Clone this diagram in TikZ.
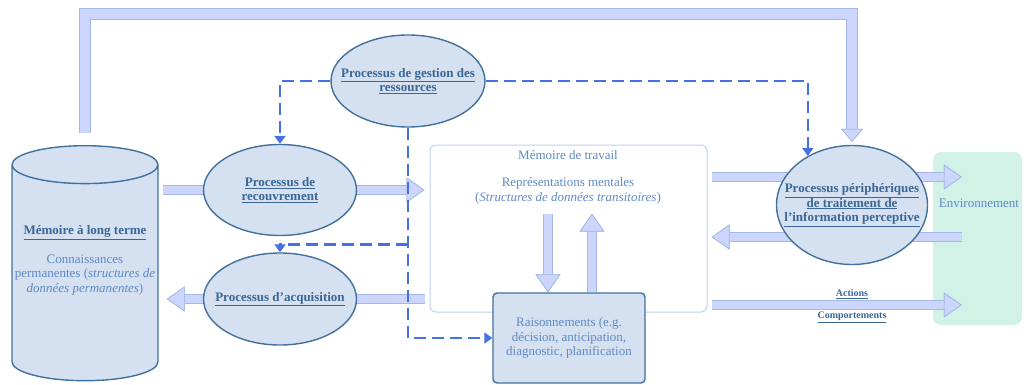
\documentclass[tikz,border=0pt]{standalone}
\usepackage{fontspec}
\setmainfont{Liberation Serif}
\usetikzlibrary{shapes.geometric,arrows.meta,positioning,calc}

\definecolor{nodefill}{HTML}{D5E0F0}
\definecolor{nodeedge}{HTML}{41719C}
\definecolor{titlecol}{HTML}{3A6796}
\definecolor{bodycol}{HTML}{5F8AC4}
\definecolor{wmedge}{HTML}{BDD3EE}
\definecolor{arrowfill}{HTML}{CCD5FB}
\definecolor{arrowedge}{HTML}{A3B8E6}
\definecolor{dashcol}{HTML}{4571E4}
\definecolor{envfill}{HTML}{D2F2E8}

\newcommand{\ttl}[1]{\underline{#1}}

\pgfdeclarelayer{back}
\pgfdeclarelayer{mid}
\pgfsetlayers{back,mid,main}

\begin{document}
\begin{tikzpicture}[x=1pt, y=-1pt,
    font=\fontsize{13}{14.5}\selectfont,
    proc/.style={ellipse, draw=nodeedge, fill=nodefill, line width=1.4pt, inner sep=0pt},
    ptext/.style={align=center, text=titlecol, font=\fontsize{13}{14.5}\selectfont\bfseries},
    store/.style={cylinder, shape border rotate=90, aspect=0.27, draw=nodeedge, fill=nodefill, line width=1.4pt, align=center, text=bodycol, inner sep=0pt},
    rbox/.style={rectangle, rounded corners=4pt, draw=nodeedge, fill=nodefill, line width=1.4pt, align=center, text=bodycol},
    plain/.style={align=center, text=bodycol},
    fat/.style={line width=8pt, draw=arrowfill, preaction={draw=arrowedge, line width=9.4pt},
        -{Triangle[width=25pt, length=18pt, line width=0.7pt, color=arrowedge, fill=arrowfill]}},
    bigfat/.style={line width=10pt, draw=arrowfill, preaction={draw=arrowedge, line width=11.4pt},
        -{Triangle[width=22pt, length=13pt, line width=0.7pt, color=arrowedge, fill=arrowfill]}},
    ctrl/.style={draw=dashcol, line width=2.6pt, dash pattern=on 12pt off 6pt, -{Triangle[width=11pt, length=8pt]}},
    lbl/.style={text=titlecol, font=\fontsize{10}{12}\selectfont\bfseries}
]
\useasboundingbox (0,0) rectangle (1024,385);

% environment (behind everything)
\begin{pgfonlayer}{back}
  \node[rectangle, rounded corners=8pt, fill=envfill, minimum width=89pt, minimum height=173pt] (env) at (977.5,238.5) {};
\end{pgfonlayer}
\node[plain] (envtxt) at (979,203) {Environnement};

% long term memory
\node[store, anchor=north, minimum width=146pt, minimum height=235pt] (ltm) at (85,145)
  {{\bfseries\color{titlecol}\ttl{Mémoire à long terme}}\\[14pt]
   Connaissances\\ permanentes (\textit{structures de}\\ \textit{données permanentes})\\[14pt] ~};

% working memory
\node[rectangle, rounded corners=6pt, draw=wmedge, line width=1pt, minimum width=277pt, minimum height=167pt] (wm) at (568.5,228.5) {};
\node[plain] (wmtitle) at (568,155) {Mémoire de travail};
\node[plain] (wmrep) at (568,191) {Représentations mentales\\(\textit{Structures de données transitoires})};

\node[rbox, minimum width=152pt, minimum height=90pt] (rais) at (569,338)
  {Raisonnements (e.g.\\décision, anticipation,\\diagnostic, planification};

% processes
\node[proc, minimum width=154pt, minimum height=92pt,
  label={[ptext]center:{\ttl{Processus de gestion des}\\\ttl{ressources}}}] (gest) at (408,81) {};
\node[proc, minimum width=153pt, minimum height=91pt,
  label={[ptext]center:{\ttl{Processus de}\\\ttl{recouvrement}}}] (recouv) at (280,190) {};
\node[proc, minimum width=153pt, minimum height=92pt,
  label={[ptext]center:{\ttl{Processus d’acquisition}}}] (acq) at (280,299) {};
\node[proc, minimum width=151pt, minimum height=119pt,
  label={[ptext]center:{\ttl{Processus périphériques}\\\ttl{de traitement de}\\\ttl{l’information perceptive}}}] (peri) at (852,205) {};

% block arrows
\coordinate (envA) at ([xshift=29pt]env.west);
\coordinate (outA) at ([yshift=51.5pt]wm.east);
\coordinate (inA) at ([yshift=-8.5pt]wm.east);
\coordinate (outB) at ([yshift=-76.5pt]wm.east);
\coordinate (dn) at ([xshift=-21pt]rais.north);
\coordinate (up) at ([xshift=23pt]rais.north);
\coordinate (topbar) at (0,14);
\begin{pgfonlayer}{mid}
  \draw[bigfat, shorten >=3pt] ([yshift=12pt]ltm.north) |- (topbar -| peri.north) -- (peri.north);
  \draw[fat, shorten <=4pt, shorten >=5pt] (ltm.east |- recouv) -- (wm.west |- recouv);
  \draw[fat, shorten <=5pt, shorten >=8pt] (wm.west |- acq) -- (ltm.east |- acq);
  \draw[fat, shorten <=4pt] (outA) -- (outA -| envA);
  \draw[fat, shorten >=4pt] (inA -| envA) -- (inA);
  \draw[fat, shorten <=4pt] (outB) -- (outB -| envA);
  \draw[fat, shorten <=6pt] (dn |- wmrep.south) -- (dn);
  \draw[fat, shorten >=6pt] (up) -- (up |- wmrep.south);
\end{pgfonlayer}
\node[lbl] (act) at ([yshift=11pt]peri.south |- outB) {\ttl{Actions}};
\node[lbl] (comp) at ([yshift=-12pt]peri.south |- outB) {\ttl{Comportements}};

% control (dashed) arrows
\coordinate (mid) at ($(recouv.south)!.5!(acq.north)$);
\draw[ctrl] (gest.west) -| (recouv.north);
\draw[ctrl] (gest.east) -| (peri.132);
\draw[ctrl] (gest.south) |- (rais.west);
\draw[ctrl] (gest.south |- mid) -| (acq.north);

\end{tikzpicture}
\end{document}
